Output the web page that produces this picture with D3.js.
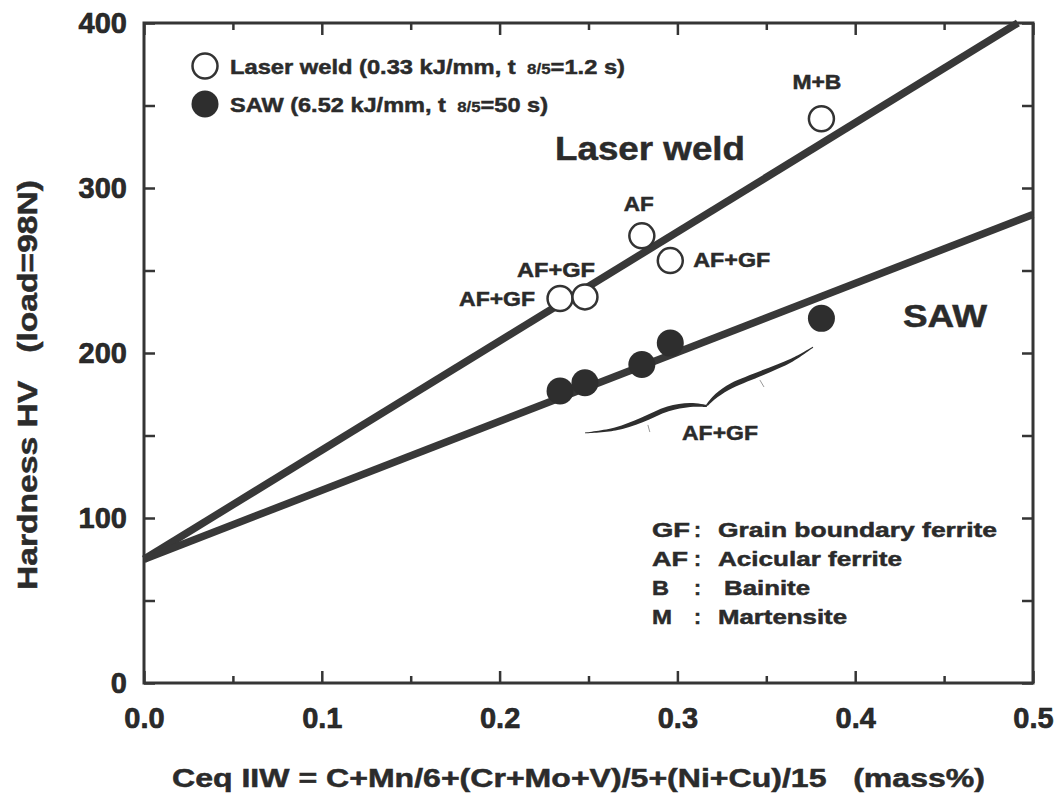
<!DOCTYPE html>
<html><head><meta charset="utf-8">
<script src="https://cdn.jsdelivr.net/npm/d3@7"></script>
<style>
body{margin:0;background:#fff;}
text{font-family:"Liberation Sans",Arial,Helvetica,sans-serif;font-weight:bold;fill:#2b2b2b;stroke:#2b2b2b;stroke-width:0.5px;}
</style></head>
<body>
<script>
// ---- data ----
const xMajorTicks = [0.0, 0.1, 0.2, 0.3, 0.4, 0.5];
const xMajorLabels = ["0.0", "0.1", "0.2", "0.3", "0.4", "0.5"];
const xMinorTicks = [0.05, 0.15, 0.25, 0.35, 0.45];
const yMajorTicks = [0, 100, 200, 300, 400];
const yMinorTicks = [50, 150, 250, 350];

const laserCeq = [0.234, 0.248, 0.280, 0.296, 0.381];
const laserHV  = [233, 234, 271, 256, 342];
const laserLabels = ["AF+GF", "AF+GF", "AF", "AF+GF", "M+B"];

const sawCeq = [0.234, 0.248, 0.280, 0.296, 0.381];
const sawHV  = [177, 182, 193, 206, 221];

const laserFit = [[0, 75], [0.4915, 400]];
const sawFit   = [[0, 75], [0.5, 284]];

const legendItems = ["Laser weld (0.33 kJ/mm, t ", "SAW (6.52 kJ/mm, t "];
const legendSub = ["8/5", "8/5"];
const legendTail = ["=1.2 s)", "=50 s)"];

const defAbbr = ["GF", "AF", "B", "M"];
const defText = ["Grain boundary ferrite", "Acicular ferrite", "Bainite", "Martensite"];

// hand-drawn brace under the SAW AF+GF points (data units: Ceq, HV)
const braceLeftArm  = [[0.248,151.5],[0.265,153.9],[0.280,159.4],[0.2947,166.1],[0.3071,168.5],[0.3166,167.9]];
const braceRightArm = [[0.3166,168.3],[0.322,174.2],[0.3307,180.3],[0.3476,187.9],[0.3645,195.8],[0.3763,203.6]];
const braceNicks = [[[0.2834,156.4],[0.2845,152.1]], [[0.3464,183.6],[0.3487,179.4]]];

// ---- drawing ----
const W = 1061, H = 799;
const svg = d3.select("body").append("svg").attr("width", W).attr("height", H);
const x = d3.scaleLinear().domain([0, 0.5]).range([144, 1033]);
const y = d3.scaleLinear().domain([0, 400]).range([683, 23]);
const ink = "#353535";
function fit(sel, len){ return sel.attr("textLength", len).attr("lengthAdjust","spacingAndGlyphs"); }

// axes
function styleAxis(g){ g.select(".domain").remove(); g.selectAll("line").attr("stroke", ink).attr("stroke-width", 2.5); }
svg.append("g").attr("transform", `translate(0,683)`)
  .call(d3.axisBottom(x).tickValues(xMajorTicks).tickFormat((d,i)=>xMajorLabels[i]).tickSize(-12).tickPadding(24))
  .call(styleAxis).selectAll("text").style("font-size","29px").attr("fill","#1a1a1a");
svg.append("g").attr("transform", `translate(0,683)`)
  .call(d3.axisBottom(x).tickValues(xMinorTicks).tickFormat("").tickSize(-7)).call(styleAxis);
svg.append("g").attr("transform", `translate(0,23)`)
  .call(d3.axisTop(x).tickValues(xMajorTicks).tickFormat("").tickSize(-12)).call(styleAxis);
svg.append("g").attr("transform", `translate(0,23)`)
  .call(d3.axisTop(x).tickValues(xMinorTicks).tickFormat("").tickSize(-7)).call(styleAxis);
svg.append("g").attr("transform", `translate(144,0)`)
  .call(d3.axisLeft(y).tickValues(yMajorTicks).tickSize(-11).tickPadding(17))
  .call(styleAxis).selectAll("text").style("font-size","29px").attr("fill","#1a1a1a");
svg.append("g").attr("transform", `translate(144,0)`)
  .call(d3.axisLeft(y).tickValues(yMinorTicks).tickFormat("").tickSize(-11)).call(styleAxis);
svg.append("g").attr("transform", `translate(1033,0)`)
  .call(d3.axisRight(y).tickValues(yMajorTicks.concat(yMinorTicks)).tickFormat("").tickSize(-11)).call(styleAxis);
svg.selectAll("g.tick text").style("stroke","#1a1a1a").style("stroke-width","0.6px");

// frame
svg.append("rect").attr("x", x(0)).attr("y", y(400)).attr("width", x(0.5)-x(0)).attr("height", y(0)-y(400))
  .attr("fill","none").attr("stroke", ink).attr("stroke-width", 3);

// axis titles
fit(svg.append("text").attr("x", 172).attr("y", 787).style("font-size","26px").attr("fill","#1a1a1a")
  .attr("xml:space","preserve").text("Ceq IIW = C+Mn/6+(Cr+Mo+V)/5+(Ni+Cu)/15   (mass%)"), 813);
fit(svg.append("text").attr("transform","translate(37,590) rotate(-90)").style("font-size","27px").attr("fill","#1a1a1a")
  .attr("xml:space","preserve").text("Hardness HV   (load=98N)"), 410);

// fit lines
const line = d3.line().x(d=>x(d[0])).y(d=>y(d[1]));
svg.append("path").attr("d", line(laserFit)).attr("fill","none").attr("stroke","#383838").attr("stroke-width",7.5);
svg.append("path").attr("d", line(sawFit)).attr("fill","none").attr("stroke","#383838").attr("stroke-width",7.5);

// brace: tapered ribbons built from the arm points
function ribbon(arm, maxW, w0, w1){
  const p = arm.map(d=>[x(d[0]), y(d[1])]);
  const n = p.length, up = [], dn = [];
  p.forEach((pt,i)=>{
    const a = p[Math.max(0,i-1)], b = p[Math.min(n-1,i+1)];
    let dx = b[0]-a[0], dy = b[1]-a[1]; const L = Math.hypot(dx,dy); dx/=L; dy/=L;
    const t = i/(n-1);
    const w = w0*(1-t) + w1*t + maxW*Math.sin(Math.PI*t);
    up.push([pt[0]-dy*w, pt[1]+dx*w]); dn.push([pt[0]+dy*w, pt[1]-dx*w]);
  });
  const lc = d3.line().curve(d3.curveCatmullRom);
  return lc(up) + "L" + lc(dn.reverse()).slice(1) + "Z";
}
svg.append("path").attr("d", ribbon(braceLeftArm, 1.8, 0.4, 1.0)).attr("fill","#2e2e2e");
svg.append("path").attr("d", ribbon(braceRightArm, 1.8, 1.0, 0.5)).attr("fill","#2e2e2e");
braceNicks.forEach(s=>svg.append("path").attr("d", line(s)).attr("stroke","#999").attr("stroke-width",1).attr("fill","none"));
fit(svg.append("text").attr("x", 682).attr("y", 440).style("font-size","21px").text("AF+GF"), 76);

// points
svg.selectAll("circle.saw").data(sawCeq).join("circle").attr("class","saw")
  .attr("cx",(d)=>x(d)).attr("cy",(d,i)=>y(sawHV[i])).attr("r",13.5).attr("fill","#2e2e2e");
svg.selectAll("circle.laser").data(laserCeq).join("circle").attr("class","laser")
  .attr("cx",(d)=>x(d)).attr("cy",(d,i)=>y(laserHV[i])).attr("r",12.5).attr("fill","#fff").attr("stroke","#333").attr("stroke-width",2.5);

// point labels (start x offset, baseline offset, width)
const lblPos = [
  {dx:-101, dy:7, w:76},
  {dx:-68, dy:-20, w:78},
  {dx:-18, dy:-25, w:30},
  {dx:23, dy:6, w:77},
  {dx:-29, dy:-30, w:49}
];
laserLabels.forEach((d,i)=>{
  fit(svg.append("text").attr("x", x(laserCeq[i])+lblPos[i].dx).attr("y", y(laserHV[i])+lblPos[i].dy)
    .style("font-size","20px").text(d), lblPos[i].w);
});

// series labels
fit(svg.append("text").attr("x", 555).attr("y", 160).style("font-size","34px").text("Laser weld"), 190);
fit(svg.append("text").attr("x", 903).attr("y", 327).style("font-size","32px").text("SAW"), 84);

// legend
const legendW = [395, 318];
legendItems.forEach((t,i)=>{
  const cy = 66 + i*38;
  if(i===0) svg.append("circle").attr("cx",205).attr("cy",cy).attr("r",12.5).attr("fill","#fff").attr("stroke","#333").attr("stroke-width",2.5);
  else svg.append("circle").attr("cx",205).attr("cy",cy).attr("r",13.5).attr("fill","#2e2e2e");
  const tx = svg.append("text").attr("x",230).attr("y",cy+8).style("font-size","21px").attr("xml:space","preserve");
  tx.append("tspan").text(t);
  tx.append("tspan").style("font-size","15px").style("stroke-width","0.3px").text(" "+legendSub[i]);
  tx.append("tspan").text(legendTail[i]);
  fit(tx, legendW[i]);
});

// definitions
const abbrW = [38, 36, 17, 20];
const defW = [279, 184, 86, 129];
defAbbr.forEach((a,i)=>{
  const by = 537 + i*29;
  fit(svg.append("text").attr("x",652).attr("y",by).style("font-size","21px").text(a), abbrW[i]);
  svg.append("text").attr("x",694).attr("y",by).style("font-size","21px").text(":");
  fit(svg.append("text").attr("x", i===2 ? 724 : 718).attr("y",by).style("font-size","21px").text(defText[i]), defW[i]);
});
</script>
</body></html>
